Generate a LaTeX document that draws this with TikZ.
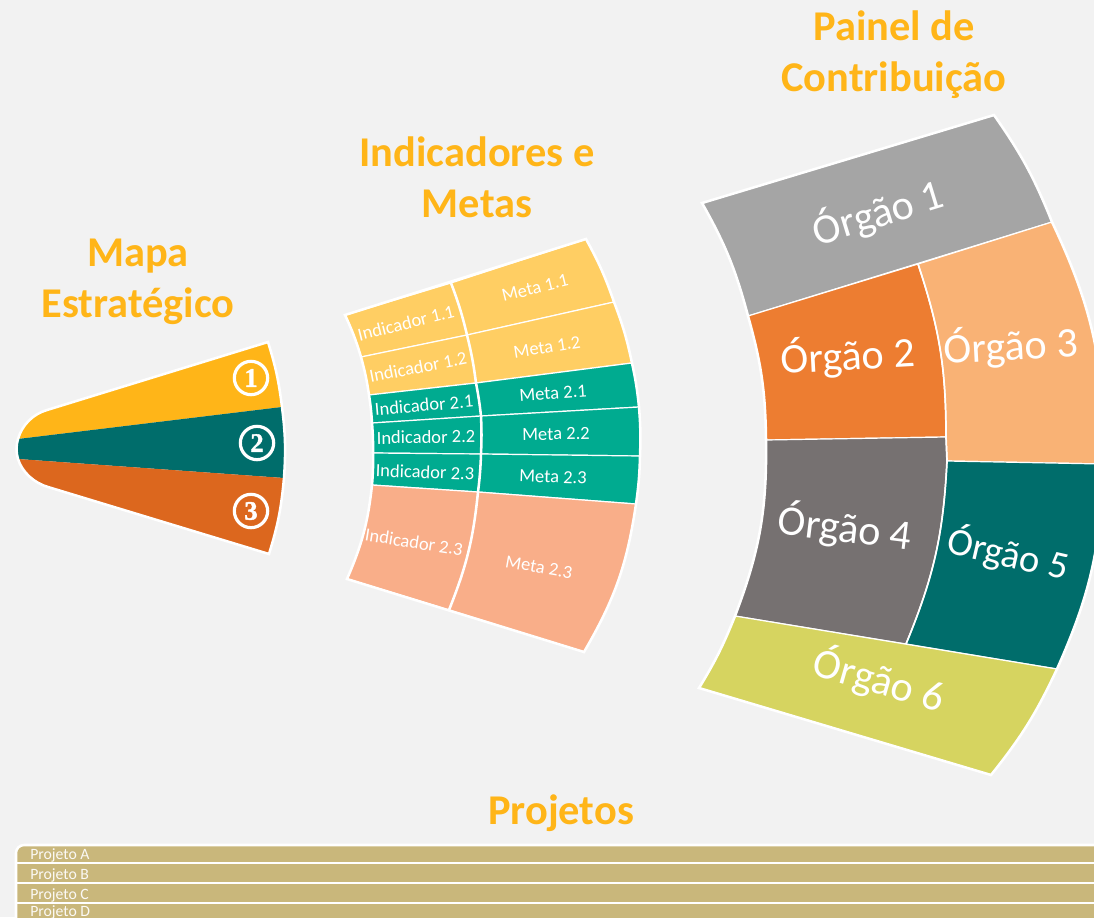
\documentclass[tikz,border=0pt]{standalone}
\usepackage{fontspec}
\usepackage{xcolor}
\setmainfont{Carlito}
\newfontfamily\digitfont{Liberation Serif}[BoldFeatures={FakeBold=1.5}]
\definecolor{paper}{HTML}{F2F2F2}
\definecolor{amber}{HTML}{FFB518}
\definecolor{petrol}{HTML}{006D6B}
\definecolor{rust}{HTML}{DC671E}
\definecolor{sand}{HTML}{FFCE63}
\definecolor{jade}{HTML}{00AB90}
\definecolor{salmon}{HTML}{F9AE89}
\definecolor{steel}{HTML}{A5A5A5}
\definecolor{carrot}{HTML}{ED7D31}
\definecolor{peach}{HTML}{F9B275}
\definecolor{stone}{HTML}{767171}
\definecolor{olive}{HTML}{D6D460}
\definecolor{tan}{HTML}{C9B77B}

\begin{document}
\begin{tikzpicture}[x=0.75pt,y=-0.75pt,
        title node/.style={text=amber,align=center,font=\fontsize{31.8}{38}\selectfont\bfseries},
        number node/.style={circle,draw=white,line width=2.4pt,minimum size=25pt,inner sep=0pt,text=white,font=\digitfont\fontsize{20}{20}\selectfont\bfseries},
        organ node/.style={text=white,font=\fontsize{31.6}{32}\selectfont},
        small node/.style={text=white,font=\fontsize{13.9}{14}\selectfont},
        project node/.style={text=white!92!tan,anchor=west,inner sep=0pt,font=\fontsize{11.8}{12}\selectfont},
        cell line/.style={draw=white,line width=0.9pt},
        outline/.style={draw=white,line width=1.9pt,line join=miter}]

    \clip (0,0) rectangle (1094,917);
    \fill[paper] (0,0) rectangle (1094,917);

    % mapa
    \coordinate (m1) at (268,342);
    \coordinate (m2) at (282,407);
    \coordinate (m3) at (284,478);
    \coordinate (m4) at (269,554);
    \coordinate (n1) at (47,410);
    \coordinate (n2) at (18,439);
    \coordinate (n3) at (18,459);
    \coordinate (n4) at (48,487);

    \fill[amber] (n1) -- (m1) to[bend left=5.1] (m2) -- (n2) .. controls (22,425) and (33,414) .. (n1) -- cycle;
    \fill[petrol] (n2) -- (m2) to[bend left=5.5] (m3) -- (n3) .. controls (16,452) and (16,446) .. (n2) -- cycle;
    \fill[rust] (n3) -- (m3) to[bend left=6] (m4) -- (n4) .. controls (34,483) and (22,472) .. (n3) -- cycle;
    \draw[outline] (n2) .. controls (22,425) and (33,414) .. (n1) -- (m1) to[bend left=5.1] (m2) to[bend left=5.5] (m3)
        to[bend left=6] (m4) -- (n4) .. controls (34,483) and (22,472) .. (n3) .. controls (16,452) and (16,446) .. (n2);

    \node[number node] (one) at (251,378) {1};
    \node[number node] (two) at (257,443) {2};
    \node[number node] (three) at (251,511) {3};

    % indicadores e metas
    \coordinate (i0) at (345,315);
    \coordinate (i1) at (361,357);
    \coordinate (i2) at (369,395);
    \coordinate (i3) at (372,423);
    \coordinate (i4) at (373,453);
    \coordinate (i5) at (372,485);
    \coordinate (i6) at (347,579);
    \coordinate (d0) at (451,283);
    \coordinate (d1) at (467,335);
    \coordinate (d2) at (476,383);
    \coordinate (d3) at (481,416);
    \coordinate (d4) at (481,454);
    \coordinate (d5) at (478,492);
    \coordinate (d6) at (449,610);
    \coordinate (e0) at (586,239);
    \coordinate (e1) at (614,302);
    \coordinate (e2) at (632,363);
    \coordinate (e3) at (639,407);
    \coordinate (e4) at (640,456);
    \coordinate (e5) at (636,504);
    \coordinate (e6) at (584,652);

    \path[cell line,fill=sand] (i0) -- (d0) to[bend left=3.6] (d1) -- (i1) to[bend right=4] (i0) -- cycle;
    \path[cell line,fill=sand] (i1) -- (d1) to[bend left=3.2] (d2) -- (i2) to[bend right=3.4] (i1) -- cycle;
    \path[cell line,fill=jade] (i2) -- (d2) to[bend left=2.2] (d3) -- (i3) to[bend right=2.5] (i2) -- cycle;
    \path[cell line,fill=jade] (i3) -- (d3) to[bend left=2.5] (d4) -- (i4) to[bend right=2.6] (i3) -- cycle;
    \path[cell line,fill=jade] (i4) -- (d4) to[bend left=2.5] (d5) -- (i5) to[bend right=2.8] (i4) -- cycle;
    \path[cell line,fill=salmon] (i5) -- (d5) to[bend left=8] (d6) -- (i6) to[bend right=8.6] (i5) -- cycle;
    \path[cell line,fill=sand] (d0) -- (e0) to[bend left=4.8] (e1) -- (d1) to[bend right=3.6] (d0) -- cycle;
    \path[cell line,fill=sand] (d1) -- (e1) to[bend left=4.4] (e2) -- (d2) to[bend right=3.2] (d1) -- cycle;
    \path[cell line,fill=jade] (d2) -- (e2) to[bend left=3.1] (e3) -- (d3) to[bend right=2.2] (d2) -- cycle;
    \path[cell line,fill=jade] (d3) -- (e3) to[bend left=3.4] (e4) -- (d4) to[bend right=2.5] (d3) -- cycle;
    \path[cell line,fill=jade] (d4) -- (e4) to[bend left=3.3] (e5) -- (d5) to[bend right=2.5] (d4) -- cycle;
    \path[cell line,fill=salmon] (d5) -- (e5) to[bend left=10.9] (e6) -- (d6) to[bend right=8] (d5) -- cycle;
    \draw[outline] (d0) to[bend left=3.6] (d1) to[bend left=3.2] (d2) to[bend left=2.2] (d3)
        to[bend left=2.5] (d4) to[bend left=2.5] (d5) to[bend left=8] (d6);
    \draw[outline] (i0) -- (e0) to[bend left=4.8] (e1) to[bend left=4.4] (e2) to[bend left=3.1] (e3)
        to[bend left=3.4] (e4) to[bend left=3.3] (e5) to[bend left=10.9] (e6) -- (i6)
        to[bend right=8.6] (i5) to[bend right=2.8] (i4) to[bend right=2.6] (i3)
        to[bend right=2.5] (i2) to[bend right=3.4] (i1) to[bend right=4] (i0) -- cycle;

    \node[small node,rotate=14] (ind11) at (406,323) {Indicador 1.1};
    \node[small node,rotate=11] (ind12) at (418,367) {Indicador 1.2};
    \node[small node,rotate=5] (ind21) at (424,405) {Indicador 2.1};
    \node[small node,rotate=1] (ind22) at (426,437) {Indicador 2.2};
    \node[small node,rotate=-2] (ind23) at (425,472) {Indicador 2.3};
    \node[small node,rotate=-9] (ind33) at (414,542) {Indicador 2.3};
    \node[small node,rotate=14] (meta11) at (535,288) {Meta 1.1};
    \node[small node,rotate=9] (meta12) at (547,347) {Meta 1.2};
    \node[small node,rotate=4] (meta21) at (553,393) {Meta 2.1};
    \node[small node,rotate=1] (meta22) at (556,434) {Meta 2.2};
    \node[small node,rotate=-2] (meta23) at (553,477) {Meta 2.3};
    \node[small node,rotate=-10] (meta33) at (539,567) {Meta 2.3};

    % painel
    \coordinate (p0) at (702,203);
    \coordinate (p1) at (748,316);
    \coordinate (p2) at (766,440);
    \coordinate (p3) at (735,616);
    \coordinate (p4) at (699,688);
    \coordinate (q1) at (918,264);
    \coordinate (q2) at (946,437);
    \coordinate (q3) at (947,461);
    \coordinate (q4) at (906,644);
    \coordinate (r0) at (994,115);
    \coordinate (r1) at (1052,222);
    \coordinate (r2) at (1103,464);
    \coordinate (r3) at (1057,669);
    \coordinate (r4) at (991,775);

    \path[cell line,fill=steel] (p0) -- (r0) to[bend left=6.6] (r1) -- (p1) to[bend right=7.3] (p0) -- cycle;
    \path[cell line,fill=carrot] (p1) -- (q1) to[bend left=9.2] (q2) -- (p2) to[bend right=7.5] (p1) -- cycle;
    \path[cell line,fill=peach] (q1) -- (r1) to[bend left=13.5] (r2) -- (q3) -- (q2) to[bend right=9.2] (q1) -- cycle;
    \path[cell line,fill=stone] (p2) -- (q2) -- (q3) to[bend left=9.8] (q4) -- (p3) to[bend right=10.8] (p2) -- cycle;
    \path[cell line,fill=petrol] (q3) -- (r2) to[bend left=11.4] (r3) -- (q4) to[bend right=9.8] (q3) -- cycle;
    \path[cell line,fill=olive] (p3) -- (r3) to[bend left=6.8] (r4) -- (p4) to[bend right=4.8] (p3) -- cycle;
    \draw[outline,line width=1.3pt] (q1) to[bend left=9.2] (q2) -- (q3) to[bend left=9.8] (q4);
    \draw[outline] (p0) -- (r0) to[bend left=6.6] (r1) to[bend left=13.5] (r2) to[bend left=11.4] (r3)
        to[bend left=6.8] (r4) -- (p4) to[bend right=4.8] (p3) to[bend right=10.8] (p2)
        to[bend right=7.5] (p1) to[bend right=7.3] (p0) -- cycle;

    \node[organ node,rotate=17] (org1) at (878,213) {Órgão 1};
    \node[organ node,rotate=3] (org2) at (848,356) {Órgão 2};
    \node[organ node,rotate=3] (org3) at (1011,346) {Órgão 3};
    \node[organ node,rotate=-7] (org4) at (845,528) {Órgão 4};
    \node[organ node,rotate=-13,font=\fontsize{29}{30}\selectfont] (org5) at (1008,554) {Órgão 5};
    \node[organ node,rotate=-16] (org6) at (879,680) {Órgão 6};

    % projetos
    \path[cell line,fill=tan,rounded corners=6pt] (16,925) -- (16,845) -- (1110,845) -- (1110,925) -- cycle;
    \draw[outline,rounded corners=6pt] (16,925) -- (16,845) -- (1110,845);
    \coordinate (b1) at (16,863);
    \coordinate (b2) at (16,883);
    \coordinate (b3) at (16,903);
    \draw[cell line] (b1) -- ++(1090,0);
    \draw[cell line] (b2) -- ++(1090,0);
    \draw[cell line] (b3) -- ++(1090,0);

    \node[project node] (proja) at (30,855) {Projeto A};
    \node[project node] (projb) at (30,875) {Projeto B};
    \node[project node] (projc) at (30,895) {Projeto C};
    \node[project node] (projd) at (30,912) {Projeto D};

    \node[title node] (mapa) at (138,282) {Mapa\\Estratégico};
    \node[title node] (indic) at (477,177) {Indicadores e\\Metas};
    \node[title node] (painel) at (894,55) {Painel de\\Contribuição};
    \node[title node] (proj) at (561,813) {Projetos};
\end{tikzpicture}
\end{document}
